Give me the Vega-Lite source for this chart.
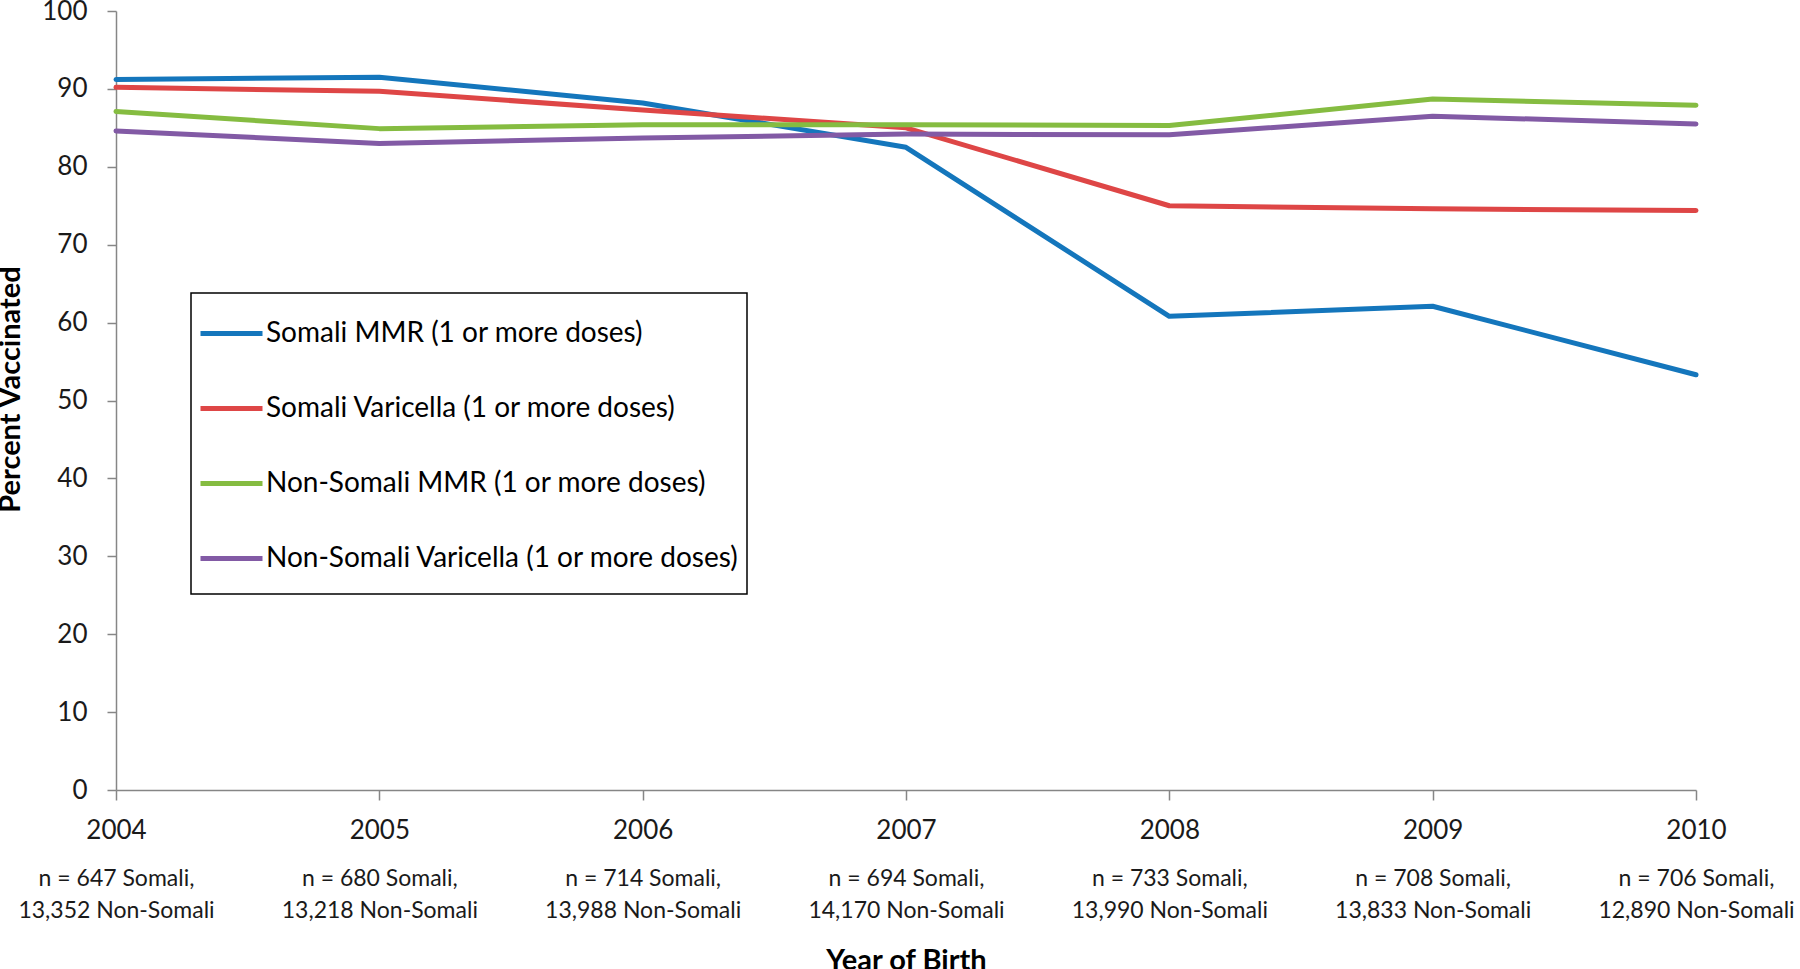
{
  "$schema": "https://vega.github.io/schema/vega-lite/v6.json",
  "width": 1580,
  "height": 779,
  "autosize": {"type": "none"},
  "padding": {"left": 116, "top": 11, "right": 104, "bottom": 179},
  "background": "white",
  "config": {
    "view": {"stroke": null},
    "font": "Lato",
    "legend": {"strokeWidth": 1.5}
  },
  "data": {
    "values": [
      {"series": "Somali MMR (1 or more doses)", "year": "2004|n  = 647 Somali,|13,352 Non-Somali", "pct": 91.2},
      {"series": "Somali MMR (1 or more doses)", "year": "2005|n = 680 Somali,|13,218 Non-Somali", "pct": 91.5},
      {"series": "Somali MMR (1 or more doses)", "year": "2006|n  = 714 Somali,|13,988 Non-Somali", "pct": 88.2},
      {"series": "Somali MMR (1 or more doses)", "year": "2007|n = 694 Somali,|14,170 Non-Somali", "pct": 82.5},
      {"series": "Somali MMR (1 or more doses)", "year": "2008|n = 733 Somali,|13,990 Non-Somali", "pct": 60.8},
      {"series": "Somali MMR (1 or more doses)", "year": "2009|n = 708 Somali,|13,833 Non-Somali", "pct": 62.1},
      {"series": "Somali MMR (1 or more doses)", "year": "2010|n = 706 Somali,|12,890 Non-Somali", "pct": 53.3},
      {"series": "Somali Varicella (1 or more doses)", "year": "2004|n  = 647 Somali,|13,352 Non-Somali", "pct": 90.2},
      {"series": "Somali Varicella (1 or more doses)", "year": "2005|n = 680 Somali,|13,218 Non-Somali", "pct": 89.7},
      {"series": "Somali Varicella (1 or more doses)", "year": "2006|n  = 714 Somali,|13,988 Non-Somali", "pct": 87.3},
      {"series": "Somali Varicella (1 or more doses)", "year": "2007|n = 694 Somali,|14,170 Non-Somali", "pct": 85.0},
      {"series": "Somali Varicella (1 or more doses)", "year": "2008|n = 733 Somali,|13,990 Non-Somali", "pct": 75.0},
      {"series": "Somali Varicella (1 or more doses)", "year": "2009|n = 708 Somali,|13,833 Non-Somali", "pct": 74.6},
      {"series": "Somali Varicella (1 or more doses)", "year": "2010|n = 706 Somali,|12,890 Non-Somali", "pct": 74.4},
      {"series": "Non-Somali MMR  (1 or more doses)", "year": "2004|n  = 647 Somali,|13,352 Non-Somali", "pct": 87.1},
      {"series": "Non-Somali MMR  (1 or more doses)", "year": "2005|n = 680 Somali,|13,218 Non-Somali", "pct": 84.9},
      {"series": "Non-Somali MMR  (1 or more doses)", "year": "2006|n  = 714 Somali,|13,988 Non-Somali", "pct": 85.4},
      {"series": "Non-Somali MMR  (1 or more doses)", "year": "2007|n = 694 Somali,|14,170 Non-Somali", "pct": 85.4},
      {"series": "Non-Somali MMR  (1 or more doses)", "year": "2008|n = 733 Somali,|13,990 Non-Somali", "pct": 85.3},
      {"series": "Non-Somali MMR  (1 or more doses)", "year": "2009|n = 708 Somali,|13,833 Non-Somali", "pct": 88.7},
      {"series": "Non-Somali MMR  (1 or more doses)", "year": "2010|n = 706 Somali,|12,890 Non-Somali", "pct": 87.9},
      {"series": "Non-Somali Varicella (1 or more doses)", "year": "2004|n  = 647 Somali,|13,352 Non-Somali", "pct": 84.6},
      {"series": "Non-Somali Varicella (1 or more doses)", "year": "2005|n = 680 Somali,|13,218 Non-Somali", "pct": 83.0},
      {"series": "Non-Somali Varicella (1 or more doses)", "year": "2006|n  = 714 Somali,|13,988 Non-Somali", "pct": 83.7},
      {"series": "Non-Somali Varicella (1 or more doses)", "year": "2007|n = 694 Somali,|14,170 Non-Somali", "pct": 84.2},
      {"series": "Non-Somali Varicella (1 or more doses)", "year": "2008|n = 733 Somali,|13,990 Non-Somali", "pct": 84.1},
      {"series": "Non-Somali Varicella (1 or more doses)", "year": "2009|n = 708 Somali,|13,833 Non-Somali", "pct": 86.5},
      {"series": "Non-Somali Varicella (1 or more doses)", "year": "2010|n = 706 Somali,|12,890 Non-Somali", "pct": 85.5}
    ]
  },
  "resolve": {"axis": {"x": "independent"}},
  "layer": [
    {
      "mark": {"type": "line", "strokeWidth": 5, "strokeCap": "round", "strokeJoin": "round"},
      "encoding": {
        "x": {
          "field": "year",
          "type": "ordinal",
          "scale": {"type": "point", "padding": 0},
          "axis": {
            "orient": "bottom",
            "title": null,
            "labelExpr": "split(datum.label,'|')[0]",
            "labelAngle": 0,
            "labelFont": "Lato",
            "labelFontSize": 26,
            "labelColor": "#1a1a1a",
            "labelPadding": 17,
            "labelOverlap": false,
            "labelBound": false,
            "labelLimit": 0,
            "tickSize": 10,
            "tickColor": "#868686",
            "tickWidth": 1.5,
            "domainColor": "#868686",
            "domainWidth": 1.5,
            "grid": false
          }
        },
        "y": {
          "field": "pct",
          "type": "quantitative",
          "scale": {"domain": [0, 100], "nice": false},
          "axis": {
            "title": "Percent Vaccinated",
            "titleFont": "Lato",
            "titleFontSize": 29,
            "titleFontWeight": "bold",
            "titleColor": "#000000",
            "titlePadding": 16,
            "titleY": 378,
            "values": [0, 10, 20, 30, 40, 50, 60, 70, 80, 90, 100],
            "labelFont": "Lato",
            "labelFontSize": 26,
            "labelColor": "#1a1a1a",
            "labelPadding": 20,
            "tickSize": 9,
            "tickColor": "#868686",
            "tickWidth": 1.5,
            "domainColor": "#868686",
            "domainWidth": 1.5,
            "grid": false
          }
        },
        "color": {
          "field": "series",
          "type": "nominal",
          "scale": {
            "domain": ["Somali MMR (1 or more doses)", "Somali Varicella (1 or more doses)", "Non-Somali MMR  (1 or more doses)", "Non-Somali Varicella (1 or more doses)"],
            "range": ["#1476bc", "#de4646", "#85bc41", "#825aa5"]
          },
          "legend": {
            "title": "\u00a0",
            "titleOrient": "bottom",
            "titleFontSize": 8,
            "titlePadding": 6,
            "orient": "none",
            "legendX": 75,
            "legendY": 282,
            "symbolType": "stroke",
            "symbolSize": 3844,
            "symbolStrokeWidth": 5,
            "labelFont": "Lato",
            "labelFontSize": 28,
            "labelColor": "#000000",
            "labelOffset": 1,
            "labelLimit": 0,
            "rowPadding": 27,
            "padding": 7,
            "strokeColor": "#000000",
            "fillColor": "#ffffff"
          }
        }
      }
    },
    {
      "mark": {"type": "line", "strokeOpacity": 0, "strokeWidth": 0},
      "encoding": {
        "x": {
          "field": "year",
          "type": "ordinal",
          "scale": {"type": "point", "padding": 0},
          "axis": {
            "orient": "bottom",
            "title": "Year of Birth",
            "titleFont": "Lato",
            "titleFontSize": 29,
            "titleFontWeight": "bold",
            "titleColor": "#000000",
            "titlePadding": 24,
            "labelExpr": "[split(datum.label,'|')[1], split(datum.label,'|')[2]]",
            "labelLineHeight": 32,
            "labelAngle": 0,
            "labelFont": "Lato",
            "labelFontSize": 23,
            "labelColor": "#1a1a1a",
            "labelPadding": 77,
            "labelOverlap": false,
            "labelBound": false,
            "labelLimit": 0,
            "ticks": false,
            "tickSize": 0,
            "domain": false,
            "grid": false
          }
        },
        "y": {"field": "pct", "type": "quantitative"},
        "detail": {"field": "series"}
      }
    }
  ]
}
